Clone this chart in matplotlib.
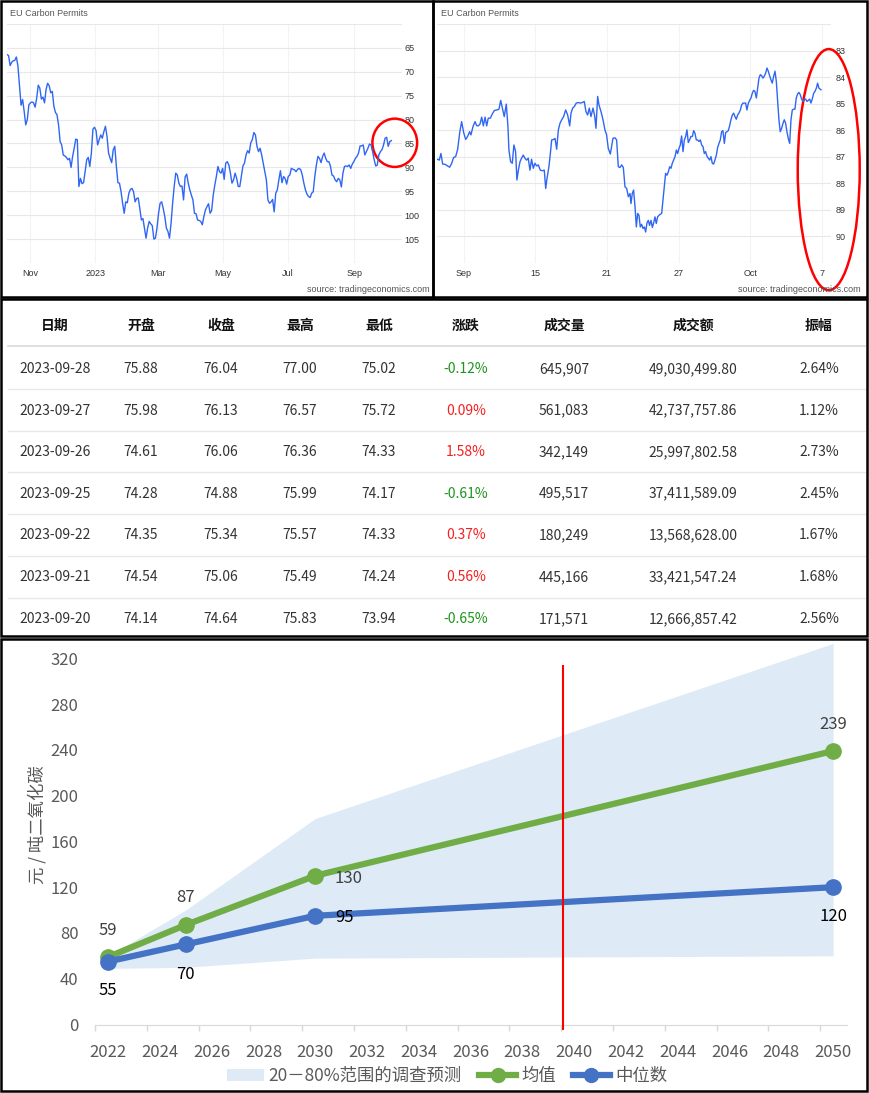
import numpy as np
import pandas as pd
import matplotlib
matplotlib.use("Agg")
import matplotlib.pyplot as plt
import matplotlib.dates as mdates
from matplotlib.patches import Ellipse, Rectangle, Patch
from matplotlib.lines import Line2D

plt.rcParams["font.family"] = ["Noto Sans CJK SC", "DejaVu Sans"]

# ---------------- data ----------------
# EU carbon permits, one year (daily close)
year_start, year_end = "2022-10-10", "2023-10-06"
year_prices = [
    66.4, 66.6, 68.7, 68.0, 67.7, 67.6, 66.9, 68.8, 73.0, 77.0,
    75.8, 78.3, 81.1, 80.0, 76.9, 76.5, 76.3, 76.5, 77.4, 75.5,
    72.8, 73.4, 75.7, 75.3, 76.5, 73.7, 72.4, 72.9, 74.4, 74.1,
    77.2, 78.5, 79.0, 81.1, 84.6, 85.3, 87.4, 87.6, 87.9, 88.4,
    88.1, 90.0, 87.7, 86.0, 84.1, 84.2, 94.0, 92.3, 93.4, 93.2,
    90.9, 88.4, 87.9, 89.8, 87.0, 82.0, 81.6, 82.3, 85.3, 84.2,
    83.2, 83.9, 82.5, 81.4, 83.5, 87.0, 88.1, 89.0, 86.3, 85.6,
    89.8, 93.2, 93.3, 95.1, 97.5, 99.6, 97.2, 97.4, 95.4, 94.6,
    94.4, 95.1, 97.2, 96.5, 96.4, 98.6, 101.0, 100.7, 102.7, 104.8,
    102.7, 101.3, 101.8, 102.2, 105.0, 104.8, 102.7, 99.6, 97.5, 97.2,
    98.6, 100.3, 102.7, 103.4, 104.8, 101.7, 97.5, 94.0, 91.2, 91.6,
    93.3, 94.0, 93.9, 96.8, 92.0, 91.4, 93.3, 94.7, 95.8, 96.8,
    99.6, 99.7, 101.0, 101.1, 101.3, 102.0, 100.3, 98.9, 98.2, 97.6,
    99.6, 99.0, 95.8, 93.7, 91.9, 89.8, 90.9, 91.2, 90.2, 92.5,
    89.1, 88.8, 89.5, 91.2, 93.3, 92.6, 91.2, 92.3, 94.0, 94.0,
    91.9, 89.7, 89.1, 87.4, 86.5, 87.0, 84.9, 84.2, 82.7, 83.2,
    85.6, 86.7, 86.0, 87.4, 89.1, 90.9, 92.6, 96.8, 97.5, 97.2,
    96.7, 99.3, 95.4, 94.7, 92.6, 90.7, 93.2, 91.9, 92.3, 93.5,
    91.9, 91.6, 90.2, 90.4, 90.5, 90.9, 90.4, 90.2, 90.5, 91.6,
    93.3, 94.7, 95.6, 96.1, 96.3, 95.4, 95.1, 91.9, 89.5, 87.7,
    88.1, 89.0, 87.7, 87.0, 88.1, 88.8, 88.8, 89.7, 91.6, 91.8,
    92.6, 93.0, 92.3, 92.6, 94.1, 91.2, 89.8, 89.7, 89.8, 89.5,
    90.2, 89.3, 88.8, 88.1, 87.7, 87.0, 85.5, 85.5, 85.3, 87.4,
    86.7, 86.0, 85.1, 85.3, 86.7, 88.4, 89.7, 89.5, 87.4, 86.7,
    86.3, 85.3, 83.9, 83.7, 85.6, 84.6, 84.4,
]
year_ticks = ["2022-11-01", "2023-01-01", "2023-03-01", "2023-05-01", "2023-07-01", "2023-09-01"]
year_tick_labels = ["Nov", "2023", "Mar", "May", "Jul", "Sep"]

# EU carbon permits, one month (days from the "Sep" tick)
month_days = [
    -2.18, -2.04, -1.90, -1.76, -1.56, -1.34, -1.17, -1.00, -0.84, -0.67,
    -0.50, -0.33, -0.17, 0.00, 0.17, 0.33, 0.50, 0.61, 0.78, 0.95,
    1.09, 1.23, 1.37, 1.51, 1.65, 1.79, 1.93, 2.06, 2.23, 2.40,
    2.57, 2.79, 2.96, 3.10, 3.24, 3.40, 3.57, 3.71, 3.79, 3.93,
    4.07, 4.21, 4.35, 4.46, 4.58, 4.72, 4.85, 4.99, 5.13, 5.27,
    5.41, 5.55, 5.69, 5.83, 5.97, 6.11, 6.25, 6.42, 6.58, 6.75,
    6.87, 6.98, 7.14, 7.26, 7.37, 7.54, 7.65, 7.79, 7.93, 8.07,
    8.21, 8.37, 8.54, 8.71, 8.88, 8.99, 9.13, 9.27, 9.43, 9.60,
    9.77, 9.94, 10.10, 10.24, 10.38, 10.52, 10.66, 10.83, 10.97, 11.08,
    11.22, 11.33, 11.50, 11.67, 11.83, 11.97, 12.11, 12.28, 12.39, 12.50,
    12.67, 12.81, 12.95, 13.09, 13.23, 13.37, 13.51, 13.65, 13.79, 13.93,
    14.01, 14.12, 14.23, 14.35,
    14.46, 14.57, 14.68, 14.79, 14.90, 15.02, 15.13, 15.24, 15.35, 15.46,
    15.57, 15.69, 15.80, 15.91, 16.02, 16.13, 16.24, 16.36, 16.47, 16.58,
    16.69, 16.80, 16.91, 17.03, 17.14, 17.25, 17.36, 17.47, 17.58, 17.70,
    17.81, 17.92, 18.03, 18.14, 18.25, 18.37, 18.48, 18.59, 18.70, 18.81,
    18.92, 19.03, 19.15, 19.26, 19.37, 19.48, 19.59, 19.70, 19.82, 19.93,
    20.04, 20.15, 20.26, 20.37, 20.49, 20.60, 20.71, 20.82, 20.93, 21.04,
    21.16, 21.27, 21.38, 21.49, 21.60, 21.71, 21.83, 21.94, 22.05, 22.16,
    22.27, 22.38, 22.50, 22.61, 22.72, 22.83, 22.94, 23.05, 23.17, 23.28,
    23.39, 23.50, 23.61, 23.72, 23.84, 23.95, 24.06, 24.17, 24.28, 24.39,
    24.51, 24.62, 24.73, 24.84, 24.95, 25.06, 25.17, 25.29, 25.40, 25.51,
    25.62, 25.73, 25.84, 25.96, 26.07, 26.18, 26.29, 26.40, 26.51, 26.63,
    26.74, 26.85, 26.96, 27.07, 27.18, 27.30, 27.41, 27.52, 27.63, 27.74,
    27.85, 27.97, 28.08, 28.19, 28.30, 28.41, 28.52, 28.64, 28.75, 28.86,
    28.97, 29.08, 29.19, 29.31, 29.42, 29.53, 29.64, 29.75, 29.92,
]
month_prices = [
    87.10, 87.13, 86.88, 87.28, 87.29, 87.35, 87.40, 87.25, 87.03, 87.00,
    86.72, 86.09, 85.68, 86.09, 86.35, 86.24, 86.06, 86.18, 85.87, 85.68,
    85.83, 85.84, 85.77, 85.51, 85.84, 85.51, 85.84, 85.55, 85.55, 85.39,
    85.26, 85.24, 85.21, 84.88, 85.17, 85.49, 85.02, 85.87, 86.75, 87.19,
    87.25, 86.56, 86.81, 87.88, 87.51, 87.19, 87.06, 86.94, 87.06, 87.13,
    87.06, 87.51, 87.10, 87.44, 87.25, 87.35, 87.31, 87.51, 87.53, 87.51,
    88.20, 87.82, 87.38, 86.88, 86.37, 86.35, 86.31, 86.72, 85.99, 85.74,
    85.61, 85.49, 85.24, 85.43, 85.84, 85.36, 85.17, 85.11, 84.98, 84.96,
    84.98, 84.96, 84.92, 85.30, 85.43, 85.17, 85.49, 85.17, 85.46, 85.93,
    84.73, 85.05, 85.30, 85.61, 85.99, 86.18, 86.69, 86.90, 86.62, 86.31,
    86.29, 86.37, 87.38, 87.41, 87.31, 87.41, 88.14, 88.20, 88.51, 88.39,
    88.77, 88.39, 88.26, 88.89, 89.65, 89.14, 89.21, 89.65, 89.55, 89.71,
    89.65, 89.84, 89.50, 89.40, 89.59, 89.40, 89.67, 89.50, 89.27, 89.52,
    89.27, 89.21, 89.17, 89.14, 88.64, 88.14, 87.63, 87.70, 87.57, 87.38,
    87.44, 87.25, 87.13, 87.00, 86.75, 86.88, 86.69, 86.56, 86.22, 86.81,
    86.37, 86.24, 85.99, 86.47, 86.37, 86.24, 86.24, 86.02, 86.12, 86.37,
    86.37, 86.43, 86.37, 86.56, 86.62, 86.88, 86.81, 86.98, 87.06, 87.13,
    87.00, 87.25, 87.28, 87.13, 86.94, 86.65, 86.50, 86.37, 86.06, 86.02,
    86.50, 86.09, 86.06, 86.02, 85.84, 85.61, 85.43, 85.36, 85.49, 85.59,
    85.43, 85.36, 85.24, 85.05, 84.98, 84.98, 84.98, 85.24, 84.98, 84.88,
    84.79, 84.61, 84.50, 84.54, 84.79, 84.42, 84.04, 83.91, 83.95, 84.04,
    83.97, 83.85, 83.66, 83.78, 83.95, 84.10, 84.23, 83.97, 83.78, 84.16,
    84.86, 85.61, 86.06, 85.93, 85.74, 85.61, 85.74, 86.06, 86.31, 86.50,
    85.61, 85.24, 85.21, 85.21, 84.79, 84.63, 84.58, 84.67, 84.83, 84.92,
    84.86, 84.83, 84.92, 84.88, 84.83, 84.98, 84.83, 84.61, 84.54, 84.42,
    84.23, 84.42, 84.48,
]
month_ticks = [0, 6, 12, 18, 24, 30]
month_tick_labels = ["Sep", "15", "21", "27", "Oct", "7"]

# trading table
table_header = ["日期", "开盘", "收盘", "最高", "最低", "涨跌", "成交量", "成交额", "振幅"]
tbl_date = ["2023-09-28", "2023-09-27", "2023-09-26", "2023-09-25", "2023-09-22", "2023-09-21", "2023-09-20"]
tbl_open = [75.88, 75.98, 74.61, 74.28, 74.35, 74.54, 74.14]
tbl_close = [76.04, 76.13, 76.06, 74.88, 75.34, 75.06, 74.64]
tbl_high = [77.00, 76.57, 76.36, 75.99, 75.57, 75.49, 75.83]
tbl_low = [75.02, 75.72, 74.33, 74.17, 74.33, 74.24, 73.94]
tbl_change = [-0.12, 0.09, 1.58, -0.61, 0.37, 0.56, -0.65]
tbl_volume = [645907, 561083, 342149, 495517, 180249, 445166, 171571]
tbl_turnover = [49030499.80, 42737757.86, 25997802.58, 37411589.09, 13568628.00, 33421547.24, 12666857.42]
tbl_amplitude = [2.64, 1.12, 2.73, 2.45, 1.67, 1.68, 2.56]

# carbon price survey forecast
fc_years = [2022, 2025, 2030, 2050]
fc_mean = [59, 87, 130, 239]
fc_median = [55, 70, 95, 120]
band_low = [49, 50, 58, 60]
band_high = [60, 100, 180, 333]
mark_year = 2039.55

# ---------------- figure ----------------
W, H = 869, 1093
fig = plt.figure(figsize=(W / 100, H / 100), dpi=100)


def px_axes(x0, y0, x1, y1):
    return fig.add_axes([x0 / W, 1 - y1 / H, (x1 - x0) / W, (y1 - y0) / H])


def px_text(x, y, s, **kw):
    return fig.text(x / W, 1 - y / H, s, **kw)


TE_BLUE = "#2f66f3"
TE_FONT = "Liberation Sans"


def style_te(ax, ylabels):
    for s in ax.spines.values():
        s.set_visible(False)
    ax.yaxis.tick_right()
    ax.yaxis.grid(True, color="#e8e8e8", lw=0.8)
    ax.xaxis.grid(True, color="#f3f3f3", lw=0.8)
    ax.set_axisbelow(True)
    ax.set_yticklabels(ylabels, fontsize=6.5, color="#333333", fontfamily=TE_FONT)
    ax.tick_params(axis="both", length=0)
    ax.tick_params(axis="x", pad=4)


# --- top left: one year ---
ax1 = px_axes(7, 24, 402, 263)
d1 = pd.date_range(year_start, year_end, periods=len(year_prices))
ax1.plot(d1, year_prices, color=TE_BLUE, lw=1.0)
ax1.set_xlim(pd.Timestamp("2022-10-10"), pd.Timestamp("2023-10-16"))
ax1.set_ylim(110, 60)
yt1 = list(range(60, 111, 5))
ax1.set_yticks(yt1)
style_te(ax1, ["" if v in (60, 110) else str(v) for v in yt1])
ax1.set_xticks([pd.Timestamp(t) for t in year_ticks])
ax1.set_xticklabels(year_tick_labels, fontsize=6.5, color="#333333", fontfamily=TE_FONT)
ax1.tick_params(axis="y", pad=2)
ax1.add_patch(Ellipse((mdates.date2num(pd.Timestamp("2023-10-09 05:00")), 84.85),
                      width=42, height=10.1, fill=False, ec="red", lw=1.8, clip_on=False))
px_text(10, 13.5, "EU Carbon Permits", fontsize=6.5, color="#555555",
        fontfamily=TE_FONT, va="center", ha="left")
px_text(430, 290, "source: tradingeconomics.com", fontsize=6.5, color="#555555",
        fontfamily=TE_FONT, va="center", ha="right")

# --- top right: one month ---
ax2 = px_axes(437.5, 24, 831, 263.3)
ax2.plot(month_days, month_prices, color=TE_BLUE, lw=1.0)
ax2.set_xlim(-2.19, 30.76)
ax2.set_ylim(91.02, 82.0)
yt2 = list(range(82, 92))
ax2.set_yticks(yt2)
style_te(ax2, ["" if v in (82, 91) else str(v) for v in yt2])
ax2.set_xticks(month_ticks)
ax2.set_xticklabels(month_tick_labels, fontsize=6.5, color="#333333", fontfamily=TE_FONT)
ax2.tick_params(axis="y", pad=3)
ax2.add_patch(Ellipse((30.57, 87.49), width=5.19, height=9.09,
                      fill=False, ec="red", lw=1.8, clip_on=False))
px_text(441, 13.5, "EU Carbon Permits", fontsize=6.5, color="#555555",
        fontfamily=TE_FONT, va="center", ha="left")
px_text(861, 290, "source: tradingeconomics.com", fontsize=6.5, color="#555555",
        fontfamily=TE_FONT, va="center", ha="right")

# --- table ---
col_x = [55, 141, 221, 300, 379, 466, 564, 693, 819]
header_y = 326
row_y = [369, 410.5, 452, 493.5, 535, 577, 619]
row_lines = [388.5, 430.5, 472, 514, 556, 597.5]

for x, name in zip(col_x, table_header):
    px_text(x, header_y, name, fontsize=10, fontweight="bold", color="#111111",
            ha="center", va="center")
fig.add_artist(Line2D([8 / W, 865 / W], [1 - 346 / H] * 2, color="#dcdcdc", lw=1.3,
                      transform=fig.transFigure))
for yl in row_lines:
    fig.add_artist(Line2D([8 / W, 865 / W], [1 - yl / H] * 2, color="#e8e8e8", lw=1.0,
                          transform=fig.transFigure))

for i, y in enumerate(row_y):
    chg = tbl_change[i]
    cells = [
        (tbl_date[i], "#333333"),
        (f"{tbl_open[i]:.2f}", "#333333"),
        (f"{tbl_close[i]:.2f}", "#333333"),
        (f"{tbl_high[i]:.2f}", "#333333"),
        (f"{tbl_low[i]:.2f}", "#333333"),
        (f"{chg:.2f}%", "#f52020" if chg > 0 else "#1e951e"),
        (f"{tbl_volume[i]:,}", "#333333"),
        (f"{tbl_turnover[i]:,.2f}", "#333333"),
        (f"{tbl_amplitude[i]:.2f}%", "#333333"),
    ]
    for x, (s, c) in zip(col_x, cells):
        px_text(x, y, s, fontsize=10, color=c, ha="center", va="center")

# --- bottom: survey forecast ---
GREEN = "#70ad47"
BLUE = "#4472c4"
ax3 = px_axes(95.05, 640, 847.4, 1024.5)
ax3.fill_between(fc_years, band_low, band_high, color="#deebf7", lw=0, zorder=1)
ax3.plot(fc_years, fc_mean, color=GREEN, lw=4.5, marker="o", ms=11, zorder=3)
ax3.plot(fc_years, fc_median, color=BLUE, lw=4.5, marker="o", ms=11, zorder=4)
ax3.vlines(mark_year, -5, 314, color="red", lw=1.5, zorder=5, clip_on=False)

mean_offsets = [(0, 19), (0, 20), (24, -2), (0, 19)]
median_offsets = [(0, -21), (0, -21.5), (21, -1), (0, -21)]
for yr, v, off in zip(fc_years, fc_mean, mean_offsets):
    ax3.annotate(str(v), (yr, v), xytext=off, textcoords="offset points",
                 ha="center", va="center", fontsize=12, color="#404040", zorder=6)
for yr, v, off in zip(fc_years, fc_median, median_offsets):
    ax3.annotate(str(v), (yr, v), xytext=off, textcoords="offset points",
                 ha="center", va="center", fontsize=12, color="black", zorder=6)

ax3.set_xlim(2021.5, 2050.55)
ax3.set_ylim(0, 336)
ax3.set_yticks(range(0, 321, 40))
ax3.set_xticks(range(2022, 2051, 2))
ax3.set_xticks(np.arange(2021.5, 2050, 2), minor=True)
ax3.tick_params(axis="y", length=0, pad=12, labelsize=12, labelcolor="#595959")
ax3.tick_params(axis="x", which="major", length=0, pad=14, labelsize=12, labelcolor="#595959")
ax3.tick_params(axis="x", which="minor", length=4, width=1, color="#d9d9d9")
for side in ("top", "right", "left"):
    ax3.spines[side].set_visible(False)
ax3.spines["bottom"].set_color("#d9d9d9")
ax3.set_ylabel("元 / 吨二氧化碳", fontsize=12.5, color="#595959")
ax3.yaxis.set_label_coords(-0.064, 0.52)

handles = [
    Patch(facecolor="#deebf7", edgecolor="none"),
    Line2D([], [], color=GREEN, lw=4.5, marker="o", ms=10),
    Line2D([], [], color=BLUE, lw=4.5, marker="o", ms=10),
]
fig.legend(handles, ["20－80%范围的调查预测", "均值", "中位数"], ncol=3,
           loc="center", bbox_to_anchor=(447 / W, 1 - 1076 / H), frameon=False,
           fontsize=12.5, labelcolor="#595959", handlelength=2.1,
           handletextpad=0.3, columnspacing=1.0)

# --- panel frames ---
for x0, y0, x1, y1 in [(1, 1, 433, 297), (433, 1, 867, 297),
                       (1, 299, 867, 636), (1, 639, 867, 1091)]:
    fig.add_artist(Rectangle((x0 / W, 1 - y1 / H), (x1 - x0) / W, (y1 - y0) / H,
                             transform=fig.transFigure, fill=False, ec="black",
                             lw=1.8, zorder=10))

fig.savefig("out.png", dpi=100)
